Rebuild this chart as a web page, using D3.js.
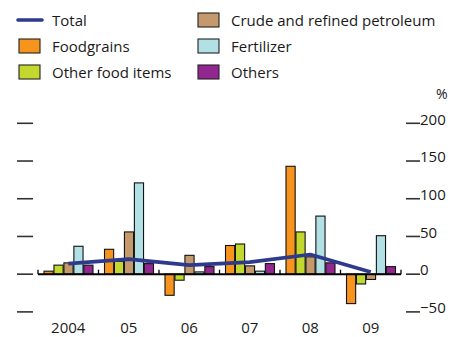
<!DOCTYPE html>
<html>
<head>
<meta charset="utf-8">
<script src="https://cdn.jsdelivr.net/npm/d3@7"></script>
<style>
  html, body { margin: 0; padding: 0; background: #fff; }
  svg { display: block; font-family: "Open Sans", "Noto Sans", sans-serif; }
</style>
</head>
<body>
<svg id="chart" width="453" height="337"></svg>
<script>
// Annual growth by commodity group, %
const years = ["2004", "05", "06", "07", "08", "09"];
const seriesNames = ["Foodgrains", "Other food items", "Crude and refined petroleum", "Fertilizer", "Others"];
const seriesColors = ["#f7941d", "#c3d82f", "#c49a6c", "#b1e0e5", "#92278f"];
const foodgrains = [4, 33, -28, 38, 143, -39];
const otherFood = [12, 17, -8, 40, 56, -13];
const petroleum = [15, 56, 25, 11, 23, -7];
const fertilizer = [37, 121, 3, 4, 77, 51];
const others = [12, 14, 10, 14, 15, 10];
const total = [14, 20, 12, 16, 26, 3];
const yTicks = [-50, 0, 50, 100, 150, 200];

const seriesValues = [foodgrains, otherFood, petroleum, fertilizer, others];

const svg = d3.select("#chart");

const x = d3.scaleBand().domain(years).range([38, 401]).padding(0);
const xInner = d3.scaleBand().domain(d3.range(seriesNames.length))
  .range([6, x.bandwidth() - 5.5]).paddingInner(0.08);
const y = d3.scaleLinear().domain([-50, 200]).range([311.9, 123.3]);

// Tick marks on both sides, labels on the right
const rightAxis = d3.axisRight(y).tickValues(yTicks).tickSize(0).tickFormat(d3.format("d"));
const ra = svg.append("g").attr("transform", "translate(420,0)").call(rightAxis);
ra.select(".domain").remove();
ra.selectAll("text").attr("x", 0).attr("dy", "0.05em")
  .attr("font-size", 15).attr("fill", "#1a1a1a")
  .attr("font-family", "'Open Sans', sans-serif");

svg.append("g").selectAll("line.rt").data(yTicks).join("line")
  .attr("x1", 406).attr("x2", 420)
  .attr("y1", d => y(d)).attr("y2", d => y(d))
  .attr("stroke", "#333").attr("stroke-width", 1.6);
svg.append("g").selectAll("line.lt").data(yTicks).join("line")
  .attr("x1", 17).attr("x2", 33)
  .attr("y1", d => y(d)).attr("y2", d => y(d))
  .attr("stroke", "#333").attr("stroke-width", 1.6);

svg.append("text").attr("x", 436).attr("y", 99)
  .attr("font-size", 14).attr("fill", "#1a1a1a").text("%");

// Bars
const groups = svg.append("g").selectAll("g").data(years).join("g")
  .attr("transform", d => `translate(${x(d)},0)`);
groups.selectAll("rect")
  .data((yr, i) => seriesValues.map((vals, s) => ({ s, v: vals[i] })))
  .join("rect")
  .attr("x", d => xInner(d.s))
  .attr("width", xInner.bandwidth())
  .attr("y", d => y(Math.max(0, d.v)))
  .attr("height", d => Math.abs(y(d.v) - y(0)))
  .attr("fill", d => seriesColors[d.s])
  .attr("stroke", "#111").attr("stroke-width", 1.1);

// Zero line with category separators
svg.append("line").attr("x1", 38).attr("x2", 401)
  .attr("y1", y(0)).attr("y2", y(0))
  .attr("stroke", "#000").attr("stroke-width", 2);
const bounds = years.map(d => x(d)).concat([x.range()[1]]);
svg.append("g").selectAll("line").data(bounds).join("line")
  .attr("x1", d => d).attr("x2", d => d)
  .attr("y1", y(0)).attr("y2", y(0) - 4.5)
  .attr("stroke", "#000").attr("stroke-width", 1.3);

// Category labels
const bottomAxis = d3.axisBottom(x).tickSize(0);
const ba = svg.append("g").attr("transform", "translate(0,316)").call(bottomAxis);
ba.select(".domain").remove();
ba.selectAll("text").attr("font-size", 15).attr("fill", "#1a1a1a")
  .attr("font-family", "'Open Sans', sans-serif").attr("dy", "0.95em");

// Total line
const line = d3.line()
  .x((d, i) => x(years[i]) + x.bandwidth() / 2)
  .y(d => y(d));
svg.append("path").datum(total)
  .attr("d", line)
  .attr("fill", "none").attr("stroke", "#2e3a8c")
  .attr("stroke-width", 3.6).attr("stroke-linejoin", "round");

// Legend
const legend = svg.append("g").attr("font-size", 15).attr("fill", "#1a1a1a");
legend.append("line").attr("x1", 18).attr("x2", 42).attr("y1", 20).attr("y2", 20)
  .attr("stroke", "#2e3a8c").attr("stroke-width", 3.6).attr("stroke-linecap", "round");
legend.append("text").attr("x", 52).attr("y", 25.5).text("Total");
const legendItems = [
  { s: 0, x: 18, y: 46 }, { s: 1, x: 18, y: 72 },
  { s: 2, x: 197, y: 20 }, { s: 3, x: 197, y: 46 }, { s: 4, x: 197, y: 72 }
];
legendItems.forEach(it => {
  legend.append("rect").attr("x", it.x + 1).attr("y", it.y - 7)
    .attr("width", 21).attr("height", 14)
    .attr("fill", seriesColors[it.s]).attr("stroke", "#222").attr("stroke-width", 1.1);
  legend.append("text").attr("x", it.x + 34).attr("y", it.y + 5.5).text(seriesNames[it.s]);
});
</script>
</body>
</html>
